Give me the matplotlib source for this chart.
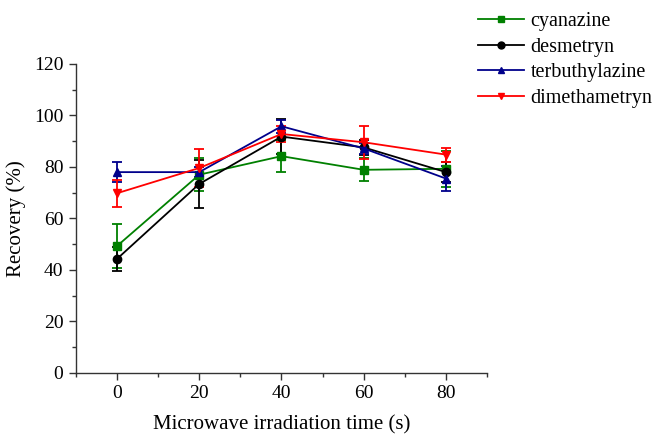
import matplotlib
matplotlib.use("Agg")
import matplotlib.pyplot as plt
from matplotlib.ticker import MultipleLocator
from matplotlib.lines import Line2D

plt.rcParams['font.family'] = ['Liberation Serif', 'DejaVu Serif']

time_s = [0, 20, 40, 60, 80]
names = ["cyanazine", "desmetryn", "terbuthylazine", "dimethametryn"]
cyanazine = [49.3, 77.0, 84.2, 78.9, 79.3]
cyanazine_err = [8.4, 6.3, 6.3, 4.5, 7.0]
desmetryn = [44.3, 73.4, 91.8, 87.6, 78.0]
desmetryn_err = [4.7, 9.2, 6.7, 3.0, 4.0]
terbuthylazine = [78.0, 78.0, 95.8, 87.2, 75.5]
terbuthylazine_err = [4.0, 2.0, 2.5, 2.0, 4.8]
dimethametryn = [69.8, 79.6, 92.8, 89.6, 84.8]
dimethametryn_err = [5.3, 7.4, 3.0, 6.4, 2.7]

series = [cyanazine, desmetryn, terbuthylazine, dimethametryn]
errors = [cyanazine_err, desmetryn_err, terbuthylazine_err, dimethametryn_err]
colors = ["#008000", "#000000", "#00008B", "#FF0000"]
markers = ["s", "o", "^", "v"]

fig = plt.figure(figsize=(6.6, 4.34), dpi=100)
ax = fig.add_axes([0.115, 0.1406, 0.623, 0.712])

for vals, err, c, m, n in zip(series, errors, colors, markers, names):
    ax.errorbar(time_s, vals, yerr=err, color=c, marker=m, markersize=6,
                linewidth=1.3, elinewidth=1.3, capsize=3.5, capthick=1.3,
                label=n)

ax.set_xlim(-10, 90)
ax.set_ylim(0, 120)
ax.xaxis.set_major_locator(MultipleLocator(20))
ax.xaxis.set_minor_locator(MultipleLocator(10))
ax.yaxis.set_major_locator(MultipleLocator(20))
ax.yaxis.set_minor_locator(MultipleLocator(10))
ax.spines['top'].set_visible(False)
ax.spines['right'].set_visible(False)
for s in ['left', 'bottom']:
    ax.spines[s].set_linewidth(1.0)
    ax.spines[s].set_color('#333333')
ax.tick_params(which='major', direction='out', length=5, width=1.0, labelsize=14,
               colors='#333333', labelcolor='black', pad=4)
ax.tick_params(which='minor', direction='out', length=3, width=1.0, colors='#333333')

ax.set_xlabel("Microwave irradiation time (s)", fontsize=15, labelpad=9)
ax.set_ylabel("Recovery (%)", fontsize=15, labelpad=6)

leg_handles = [Line2D([0], [0], color=c, marker=m, markersize=5, linewidth=1.3)
               for c, m in zip(colors, markers)]
fig.legend(leg_handles, names, loc='upper left', bbox_to_anchor=(478 / 660, 1 - 12 / 434),
           frameon=False, fontsize=14.5, handlelength=2.3, handletextpad=0.3,
           labelspacing=0.32, borderpad=0, borderaxespad=0)

fig.savefig("out.png", dpi=100)
